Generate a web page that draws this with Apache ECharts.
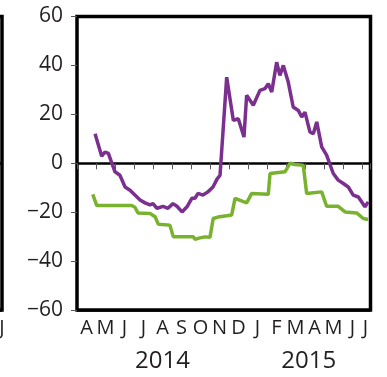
<!DOCTYPE html>
<html><head><meta charset="utf-8">
<script src="https://cdn.jsdelivr.net/npm/echarts@6/dist/echarts.min.js"></script>
<style>html,body{margin:0;padding:0;background:#fff}#c{width:387px;height:377px}</style>
</head><body><div id="c"></div>
<script>
// Month initials, Apr 2014 .. Jul 2015 (labels sit mid-month)
const monthLabels = ['A','M','J','J','A','S','O','N','D','J','F','M','A','M','J','J'];
const yearLabels = ['2014','2015'];
const yearPositions = [4.5, 12.2];           // months since 1 Apr 2014
const leftPanelLabel = 'J';
// x = months since 1 Apr 2014
const purpleMonths = [0.95,1.30,1.47,1.65,2.00,2.26,2.53,2.79,3.05,3.32,3.58,3.84,4.00,4.21,4.53,4.79,5.05,5.26,5.53,5.79,6.05,6.21,6.37,6.63,6.89,7.16,7.37,7.53,7.88,8.23,8.49,8.79,8.93,9.28,9.63,9.89,10.07,10.25,10.51,10.68,10.86,11.12,11.38,11.65,11.83,12.00,12.26,12.44,12.62,12.88,13.14,13.49,13.75,14.02,14.28,14.54,14.81,15.16,15.33];
const purpleValues = [12.1,2.9,4.6,4.0,-3.5,-4.9,-9.7,-11,-13,-15,-16.2,-17,-16.5,-18.4,-17.6,-18.4,-16.5,-17.6,-19.9,-17.8,-14.3,-14.3,-12.3,-13,-11.7,-9.7,-6.5,-4.9,35.2,17.5,18.2,10.7,27.8,23.7,29.8,30.5,32.5,29.1,41.3,35.9,40,33.2,23,21.6,18.9,20.9,12.8,12.1,16.9,6.7,3.3,-4.2,-6.9,-8.3,-9.7,-13,-13.8,-17.8,-15.8];
const greenMonths = [0.83,1.04,2.88,3.05,3.21,3.84,4.11,4.28,4.89,5.07,6.12,6.21,6.47,6.74,7.00,7.17,7.42,7.88,8.14,8.32,8.93,9.19,10.07,10.16,10.95,11.21,11.47,11.91,12.09,12.88,13.14,13.75,14.11,14.72,15.07,15.33];
const greenValues = [-12.7,-17.3,-17.3,-18,-20.3,-20.5,-21.9,-24.9,-25.3,-30.1,-30.1,-31.1,-30.5,-30.1,-30.3,-22.6,-22,-21.5,-21.2,-14.4,-16.2,-12.4,-12.7,-4.2,-3.5,0,-0.5,-0.8,-12.4,-11.7,-17.6,-17.6,-19.9,-20.3,-22.6,-23];

const X_MAX = 15.45;
const FONT = '"Open Sans", "Noto Sans", sans-serif';
const TXT = '#231f20';

const zip = (xs, ys) => xs.map((x, i) => [x, ys[i]]);

const chart = echarts.init(document.getElementById('c'), null, {renderer: 'canvas'});
chart.setOption({
  animation: false,
  grid: [
    {left: 77, right: 16.5, top: 16.5, bottom: 67, show: true, borderColor: '#000', borderWidth: 3.5,
     backgroundColor: 'transparent', containLabel: false, outerBoundsMode: 'none'},
    {left: -300, width: 302, top: 16.5, bottom: 67, show: true, borderColor: '#000', borderWidth: 3.5,
     backgroundColor: 'transparent', containLabel: false, outerBoundsMode: 'none'}
  ],
  xAxis: [
    {gridIndex: 0, position: 'bottom', offset: 0, type: 'value', min: 0, max: X_MAX, interval: 1,
     axisLine: {show: false}, splitLine: {show: false},
     axisTick: {show: true, length: 6, lineStyle: {color: '#555', width: 1}},
     axisLabel: {show: false}},
    {gridIndex: 0, position: 'bottom', offset: 0, type: 'value', min: 0, max: X_MAX, interval: 0.5,
     axisLine: {show: false}, splitLine: {show: false}, axisTick: {show: false},
     axisLabel: {show: true, showMaxLabel: true, showMinLabel: true, hideOverlap: false,
       fontFamily: FONT, fontSize: 20, color: TXT, margin: 8,
       formatter: v => {
         if (Math.abs(v - X_MAX) < 0.01) return '{last|' + monthLabels[15] + '}';
         const k = Math.round(v * 2);
         return (k % 2 === 1) ? monthLabels[(k - 1) / 2] : '';
       },
       rich: {last: {fontFamily: FONT, fontSize: 20, color: TXT, padding: [0, 10, 0, 0]}}}},
    {gridIndex: 0, position: 'bottom', offset: 0, type: 'value', min: 0, max: X_MAX, interval: 0.1,
     axisLine: {show: false}, splitLine: {show: false}, axisTick: {show: false},
     axisLabel: {show: true, hideOverlap: false, fontFamily: FONT, fontSize: 24, color: TXT, margin: 39,
       formatter: v => {
         const t = Math.round(v * 10);
         const i = yearPositions.findIndex(p => Math.round(p * 10) === t);
         return i >= 0 ? yearLabels[i] : '';
       }}},
    {gridIndex: 1, position: 'bottom', offset: 0, type: 'value', min: 0, max: 1, interval: 1,
     axisLine: {show: false}, splitLine: {show: false}, axisTick: {show: false},
     axisLabel: {show: true, showMaxLabel: true, fontFamily: FONT, fontSize: 20, color: TXT, margin: 8,
       formatter: v => v === 1 ? leftPanelLabel : ''}}
  ],
  yAxis: [
    {gridIndex: 0, position: 'left', offset: 0, type: 'value', min: -60, max: 60, interval: 20,
     axisLine: {show: false}, splitLine: {show: false},
     axisTick: {show: true, length: 6, lineStyle: {color: '#555', width: 1}},
     axisLabel: {fontFamily: FONT, fontSize: 21, color: TXT, margin: 14,
       formatter: v => String(v).replace('-', '\u2212')}},
    {gridIndex: 0, position: 'left', offset: 0, type: 'value', min: -60, max: 60, interval: 60,
     axisLine: {show: false}, axisTick: {show: false}, axisLabel: {show: false},
     splitLine: {show: true, lineStyle: {color: '#000', width: 2.5}}},
    {gridIndex: 1, position: 'left', offset: 0, type: 'value', min: -60, max: 60, interval: 60,
     axisLine: {show: false}, axisTick: {show: false}, axisLabel: {show: false},
     splitLine: {show: true, lineStyle: {color: '#000', width: 2.5}}}
  ],
  series: [
    {type: 'line', xAxisIndex: 0, yAxisIndex: 0, data: zip(greenMonths, greenValues),
     showSymbol: false, lineStyle: {color: '#78b22f', width: 3.5}, itemStyle: {color: '#78b22f'}, z: 3},
    {type: 'line', xAxisIndex: 0, yAxisIndex: 0, data: zip(purpleMonths, purpleValues),
     showSymbol: false, lineStyle: {color: '#7b2f8f', width: 3.5}, itemStyle: {color: '#7b2f8f'}, z: 4}
  ]
});
</script></body></html>
